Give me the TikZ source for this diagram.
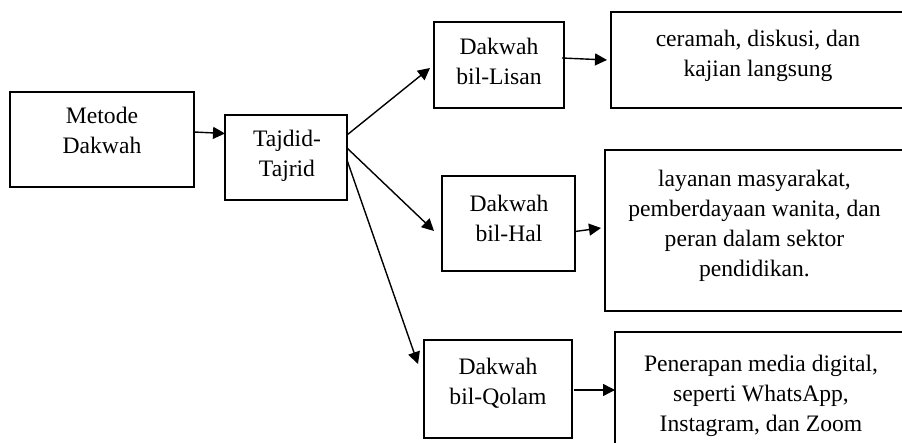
\documentclass[tikz,border=0pt]{standalone}
\usepackage{fontspec}
\setmainfont{Liberation Serif}
\usetikzlibrary{arrows.meta,calc}
\begin{document}
\begin{tikzpicture}[x=0.5pt,y=-0.5pt,
  box/.style={draw,line width=1.1pt,inner sep=0pt,outer sep=0pt},
  lbl/.style={align=center,inner sep=0pt,font=\fontsize{11.8}{15}\selectfont},
  arr/.style={line width=0.7pt,-{Triangle[length=6pt,width=6pt]}}]
\useasboundingbox (0,0) rectangle (902,443);
\clip (0,0) rectangle (902,443);
\fill[white] (0,0) rectangle (902,443);
% boxes
\node[box,minimum width=92pt,minimum height=47.5pt] (metode) at (102,139.5) {};
\node[box,minimum width=61pt,minimum height=42.5pt] (tajdid) at (286,157.5) {};
\node[box,minimum width=65pt,minimum height=43pt] (lisan) at (499,65) {};
\node[box,minimum width=147pt,minimum height=48pt] (ceramah) at (758,60) {};
\node[box,minimum width=66.5pt,minimum height=47.5pt] (hal) at (508.5,223.5) {};
\node[box,minimum width=149.5pt,minimum height=80.5pt] (layanan) at (754.5,230.5) {};
\node[box,minimum width=74pt,minimum height=49pt] (qolam) at (498,389) {};
\node[box,minimum width=146pt,minimum height=64pt] (penerapan) at (761,396) {};
% labels
\node[lbl] (tmetode) at (102,130.5) {Metode\\Dakwah};
\node[lbl] (ttajdid) at (287,155.5) {Tajdid-\\Tajrid};
\node[lbl] (tlisan) at (499,61.5) {Dakwah\\bil-Lisan};
\node[lbl] (tceramah) at (758,56) {ceramah, diskusi, dan\\kajian langsung};
\node[lbl] (thal) at (509,218) {Dakwah\\bil-Hal};
\node[lbl] (tlayanan) at (754.5,226) {layanan masyarakat,\\pemberdayaan wanita, dan\\peran dalam sektor\\pendidikan.};
\node[lbl] (tqolam) at (498,383) {Dakwah\\bil-Qolam};
\node[lbl] (tpenerapan) at (761,396) {Penerapan media digital,\\seperti WhatsApp,\\Instagram, dan Zoom};
% connectors
\draw[arr] ($(metode.east)+(0,-7.5)$) -- ($(tajdid.west)+(0,-24)$);
\draw[arr] ($(tajdid.east)+(0,-22.5)$) -- ($(lisan.west)+(-4,3)$);
\draw[arr] ($(tajdid.east)+(0,-9.5)$) -- ($(hal.west)+(-8,7.5)$);
\draw[arr] ($(tajdid.east)+(0,2.5)$) -- ($(qolam.west)+(-6,-25)$);
\draw[arr] ($(lisan.east)+(-2,-7)$) -- ($(ceramah.west)+(-4,0)$);
\draw[arr] ($(hal.east)+(0,8)$) -- ($(layanan.west)+(-4,-2.5)$);
\draw[arr] ($(qolam.east)+(2,1)$) -- ($(penerapan.west)+(0,-6)$);
\end{tikzpicture}
\end{document}
